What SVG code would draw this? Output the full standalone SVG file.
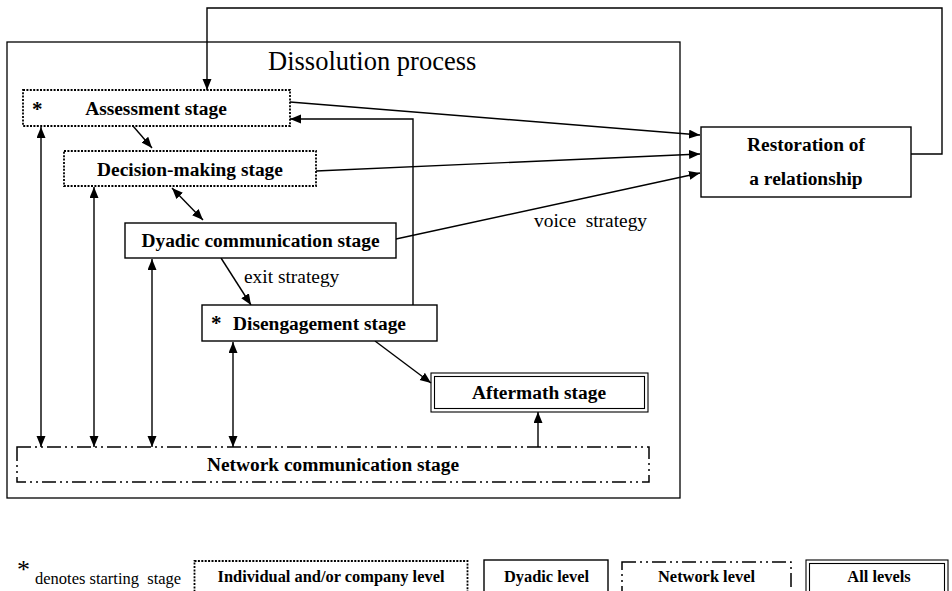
<svg xmlns="http://www.w3.org/2000/svg" width="952" height="591" viewBox="0 0 952 591">
  <style>
    .box { fill: #fff; stroke: #000; stroke-width: 1.4; }
    .dotted { fill: #fff; stroke: #000; stroke-width: 1.8; stroke-dasharray: 2 1.4; }
    .dashdot { fill: #fff; stroke: #000; stroke-width: 1.5; stroke-dasharray: 14 4 2 4 2 4; }
    .thin { fill: none; stroke: #000; stroke-width: 1.1; }
    .lbl { font-family: "Liberation Serif", "Times New Roman", serif; font-weight: bold; font-size: 19.4px; fill: #000; text-anchor: middle; }
    .leg { font-family: "Liberation Serif", "Times New Roman", serif; font-weight: bold; font-size: 16.4px; fill: #000; text-anchor: middle; }
    .plain { font-family: "Liberation Serif", "Times New Roman", serif; font-size: 19.4px; fill: #000; white-space: pre; }
    .star { font-family: "Liberation Serif", "Times New Roman", serif; font-size: 21px; fill: #000; }
    .conn { fill: none; stroke: #000; stroke-width: 1.4; }
    .arr { marker-end: url(#head); }
    .both { marker-start: url(#head); marker-end: url(#head); }
  </style>
  <defs>
    <marker id="head" markerUnits="userSpaceOnUse" markerWidth="12" markerHeight="10" refX="11" refY="4.5" orient="auto-start-reverse">
      <path d="M0,0 L11,4.5 L0,9 z" fill="#000"/>
    </marker>
  </defs>

  <rect width="952" height="591" fill="#fff"/>

  <!-- enclosing frame of the dissolution process -->
  <g id="dissolution-process">
    <rect x="7" y="42" width="673" height="456" fill="none" stroke="#000" stroke-width="1.3"/>
    <text x="268" y="70" class="plain" style="font-size:26.5px">Dissolution process</text>
  </g>

  <g id="connectors">
    <!-- feedback loop from restoration back to assessment -->
    <path class="conn arr" d="M911,154 H942 V8 H207 V90"/>
    <!-- stages towards restoration -->
    <path class="conn arr" d="M290,102 L700,135"/>
    <path class="conn arr" d="M316,171 L700,154"/>
    <path class="conn arr" d="M396,239 L700,173"/>
    <!-- disengagement back to assessment -->
    <path class="conn arr" d="M413,305 V119 H290"/>
    <!-- stage sequence -->
    <path class="conn arr" d="M133,126 L152,148"/>
    <path class="conn both" d="M172,188 L203,220"/>
    <path class="conn arr" d="M221,258 L251,305"/>
    <path class="conn arr" d="M375,341 L431,383"/>
    <path class="conn arr" d="M538,447 V412"/>
    <!-- links with the network communication stage -->
    <path class="conn both" d="M41,127 V447"/>
    <path class="conn both" d="M94,187 V447"/>
    <path class="conn both" d="M152,259 V447"/>
    <path class="conn both" d="M233,342 V447"/>
    <text x="244" y="283" class="plain">exit strategy</text>
    <text x="534" y="227" class="plain">voice  strategy</text>
  </g>

  <g id="assessment">
    <rect class="dotted" x="23" y="90" width="267" height="36"/>
    <text x="32" y="116" class="star" style="font-weight:bold">*</text>
    <text x="156" y="115" class="lbl">Assessment stage</text>
  </g>

  <g id="decision-making">
    <rect class="dotted" x="64" y="151" width="252" height="35"/>
    <text x="190" y="176" class="lbl">Decision-making stage</text>
  </g>

  <g id="dyadic-communication">
    <rect class="box" x="125" y="223" width="271" height="35"/>
    <text x="260.5" y="247" class="lbl">Dyadic communication stage</text>
  </g>

  <g id="disengagement">
    <rect class="box" x="202" y="305" width="235" height="36"/>
    <text x="211" y="330" class="star" style="font-weight:bold">*</text>
    <text x="319.5" y="330" class="lbl">Disengagement stage</text>
  </g>

  <g id="aftermath">
    <rect class="thin" x="431" y="373" width="217" height="39"/>
    <rect class="thin" x="434.5" y="376.5" width="210" height="32"/>
    <text x="539" y="399" class="lbl">Aftermath stage</text>
  </g>

  <g id="network-communication">
    <rect class="dashdot" x="17" y="447" width="632" height="35"/>
    <text x="333" y="471" class="lbl">Network communication stage</text>
  </g>

  <g id="restoration">
    <rect class="box" x="701" y="127" width="210" height="70"/>
    <text x="806" y="151" class="lbl">Restoration of</text>
    <text x="806" y="185" class="lbl">a relationship</text>
  </g>

  <!-- key to the line styles -->
  <g id="legend">
    <text x="17" y="578" class="star" style="font-size:26px">*</text>
    <text x="35" y="584" class="plain" style="font-size:16.5px">denotes starting  stage</text>
    <rect class="dotted" x="194.5" y="561" width="273" height="45"/>
    <text x="331" y="582" class="leg">Individual and/or company level</text>
    <rect class="box" x="484" y="560" width="124" height="45"/>
    <text x="546.5" y="582" class="leg">Dyadic level</text>
    <rect class="dashdot" x="622" y="562" width="169" height="45"/>
    <text x="706.5" y="582" class="leg">Network level</text>
    <rect class="thin" x="806" y="560" width="142" height="45"/>
    <rect class="thin" x="809.5" y="563.5" width="135" height="40"/>
    <text x="879" y="582" class="leg">All levels</text>
  </g>
</svg>
